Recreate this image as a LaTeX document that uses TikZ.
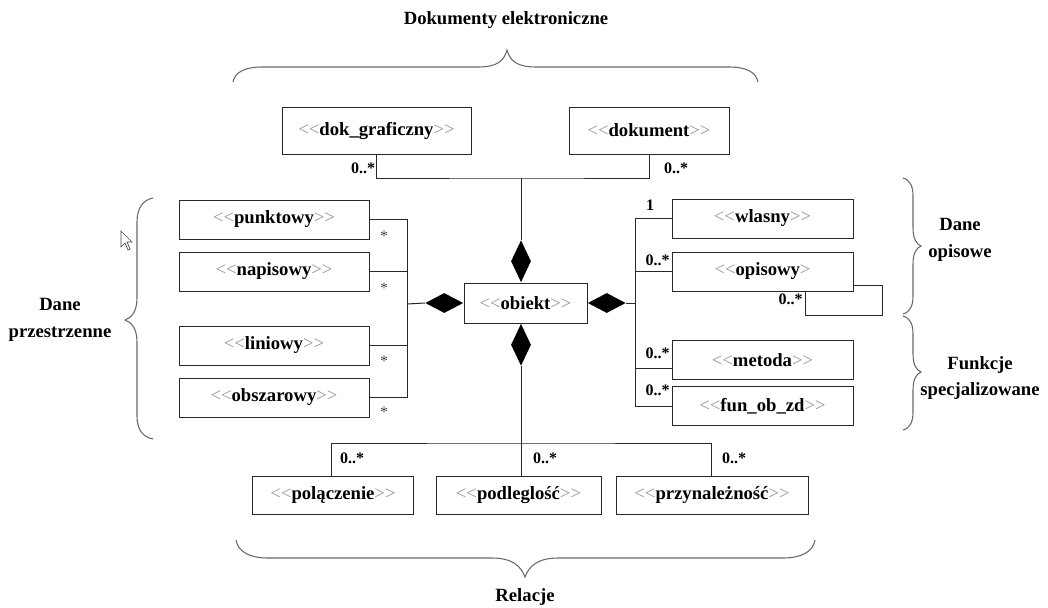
\documentclass[tikz,border=0pt]{standalone}
\usepackage{fontspec}
\setmainfont{Liberation Serif}
\usetikzlibrary{shapes.geometric}
\definecolor{stereocol}{RGB}{150,150,150}
\definecolor{linecol}{RGB}{40,40,40}
\definecolor{bracecol}{RGB}{105,105,105}
% class name framed by grey angle brackets (kern keeps << from becoming a guillemet)
\newcommand{\lang}{{\mdseries\color{stereocol}<\kern0pt<}}
\newcommand{\rang}{{\mdseries\color{stereocol}>\kern0pt>}}
\newcommand{\stereo}[1]{\lang#1\rang}
\begin{document}
\begin{tikzpicture}[x=0.75pt,y=-0.75pt,
  cls/.style={draw=linecol, line width=0.75pt, inner sep=0pt, minimum height=29.25pt,
    font=\bfseries\fontsize{14}{16}\selectfont},
  diam/.style={diamond, fill=black, draw=none, inner sep=0pt},
  hdiam/.style={diam, minimum width=28.5pt, minimum height=15pt},
  vdiam/.style={diam, minimum width=15pt, minimum height=31.5pt},
  conn/.style={draw=linecol, line width=0.75pt},
  mult/.style={font=\bfseries\fontsize{12}{14}\selectfont, inner sep=0pt},
  star/.style={font=\fontsize{12}{14}\selectfont, text=black!70, inner sep=0pt},
  brace/.style={draw=bracecol, line width=0.8pt},
  lbl/.style={font=\bfseries\fontsize{14}{20}\selectfont, align=center, inner sep=0pt}]

\fill[white] (0,0) rectangle (1048,607);
\useasboundingbox (0,0) rectangle (1048,607);

% group titles
\node[lbl] (tDok) at (506,20) {Dokumenty elektroniczne};
\node[lbl] (tPrz) at (60,320) {Dane\\przestrzenne};
\node[lbl] (tOpi) at (960,240) {Dane\\opisowe};
\node[lbl] (tFun) at (980,378) {Funkcje\\specjalizowane};
\node[lbl] (tRel) at (525,597) {Relacje};

% braces
\draw[brace] (233,82) .. controls (235,72) and (245,67) .. (262,67) -- (478,67)
  .. controls (497,67) and (504,61) .. (507,50) .. controls (510,61) and (517,67) .. (536,67)
  -- (729,67) .. controls (746,67) and (756,72) .. (758,82);
\draw[brace] (236,540) .. controls (238,552) and (250,558) .. (268,558) -- (492,558)
  .. controls (512,558) and (521,566) .. (525,577) .. controls (529,566) and (538,558) .. (558,558)
  -- (783,558) .. controls (801,558) and (813,552) .. (815,540);
\draw[brace] (153,198) .. controls (143,200) and (137,208) .. (137,222) -- (137,298)
  .. controls (137,312) and (131,318) .. (125,320) .. controls (131,322) and (137,328) .. (137,342)
  -- (137,416) .. controls (137,430) and (143,437) .. (153,439);
\draw[brace] (903,178) .. controls (910,180) and (913,186) .. (913,196) -- (913,228)
  .. controls (913,238) and (916,244) .. (921,246) .. controls (916,248) and (913,254) .. (913,264)
  -- (913,296) .. controls (913,306) and (910,312) .. (903,314);
\draw[brace] (903,316) .. controls (910,318) and (913,324) .. (913,334) -- (913,354)
  .. controls (913,364) and (916,370) .. (921,372) .. controls (916,374) and (913,380) .. (913,390)
  -- (913,412) .. controls (913,422) and (910,428) .. (903,430);

% classes
\node[cls, minimum width=141.75pt, minimum height=35.25pt] (dokg) at (376.5,130.5) {\stereo{dok\_graficzny}};
\node[cls, minimum width=120pt, minimum height=35.25pt] (dok) at (649,130.5) {\stereo{dokument}};
\node[cls, minimum width=92.25pt, minimum height=30pt] (obj) at (525.5,303) {\stereo{obiekt}};

\node[cls, minimum width=142.5pt] (punk) at (274,219.5) {\stereo{punktowy}};
\node[cls, minimum width=142.5pt] (napi) at (274,271.5) {\stereo{napisowy}};
\node[cls, minimum width=142.5pt] (lini) at (274,345.5) {\stereo{liniowy}};
\node[cls, minimum width=142.5pt] (obsz) at (274,397.5) {\stereo{obszarowy}};

\node[cls, minimum width=135.75pt] (wlas) at (762.5,218.5) {\stereo{wlasny}};
\node[cls, minimum width=135.75pt] (opis) at (762.5,271.5) {\lang opisowy{\mdseries\color{stereocol}>}};
\node[cls, minimum width=135.75pt] (meto) at (762.5,360) {\stereo{metoda}};
\node[cls, minimum width=135.75pt] (funo) at (762.5,406) {\stereo{fun\_ob\_zd}};

\node[cls, minimum width=120.75pt, minimum height=28.5pt] (pola) at (333,495) {\stereo{polączenie}};
\node[cls, minimum width=123.75pt, minimum height=28.5pt] (podl) at (518.5,495) {\stereo{podleglość}};
\node[cls, minimum width=144pt, minimum height=28.5pt] (przy) at (712,495) {\stereo{przynależność}};

% bus points
\coordinate (busT) at (521,178);
\coordinate (busB) at (521,443);
\coordinate (busL) at (407,304);
\coordinate (busR) at (635,303);
\coordinate (loopC) at (882,315);

% composition diamonds
\node[vdiam, anchor=south] (dT) at (obj.north -| busT) {};
\node[vdiam, anchor=north] (dB) at (obj.south -| busB) {};
\node[hdiam, anchor=east] (dL) at (obj.west) {};
\node[hdiam, anchor=west] (dR) at (obj.east) {};

% top connectors
\draw[conn] (dT.north) -- (busT);
\draw[conn] (dokg.south) |- (busT) -| (dok.south);

% left connectors
\draw[conn] (dL.west) -- (busL);
\draw[conn] (punk.east) -- (punk.east -| busL) -- (obsz.east -| busL) -- (obsz.east);
\draw[conn] (napi.east) -- (napi.east -| busL);
\draw[conn] (lini.east) -- (lini.east -| busL);

% right connectors
\path (meto.west) ++(0,8.5) coordinate (metoA);
\draw[conn] (dR.east) -- (busR);
\draw[conn] (wlas.west) -- (wlas.west -| busR) -- (funo.west -| busR) -- (funo.west);
\draw[conn] (opis.west) -- (opis.west -| busR);
\draw[conn] (metoA) -- (metoA -| busR);
\draw[conn] ([yshift=4.5pt]opis.south east) -| (loopC) -| ([xshift=32.6pt]opis.south);

% bottom connectors
\coordinate (polaN) at (331,477);
\coordinate (przyN) at (711,477);
\draw[conn] (dB.south) -- (busB);
\draw[conn] (polaN) |- (busB) -| (przyN);
\draw[conn] (busB) -- (busB |- podl.north);

% multiplicities
\node[mult] (m1) at (363,168) {0..*};
\node[mult] (m2) at (676,168) {0..*};
\node[mult] (m3) at (650,205) {1};
\node[mult, anchor=east] (m4) at (670,260) {0..*};
\node[mult, anchor=east] (m5) at (670,353) {0..*};
\node[mult, anchor=east] (m6) at (670,390) {0..*};
\node[mult, anchor=east] (m7) at (803,299) {0..*};
\node[mult] (m8) at (352,458) {0..*};
\node[mult] (m9) at (545,458) {0..*};
\node[mult] (m10) at (734,458) {0..*};
\node[star] (s1) at (384,236) {*};
\node[star] (s2) at (384,288) {*};
\node[star] (s3) at (384,361) {*};
\node[star] (s4) at (384,412) {*};

% mouse pointer
\draw[black!70, line width=0.5pt, fill=white] (121,231) -- (121,247) -- (125,243) -- (128,250)
  -- (130,249) -- (127,242) -- (132,242) -- cycle;
\end{tikzpicture}
\end{document}
